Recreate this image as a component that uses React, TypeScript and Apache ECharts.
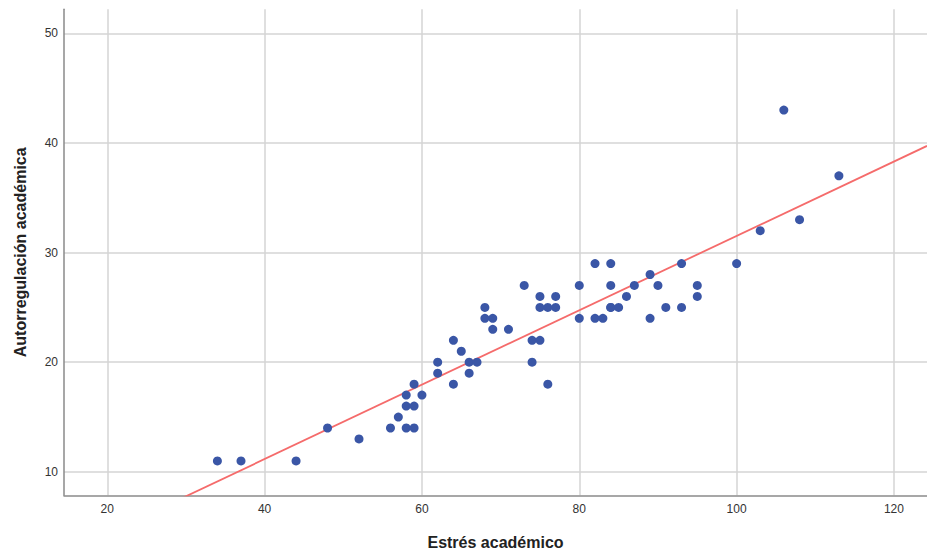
import React, { useEffect, useRef } from "react";
import * as echarts from "echarts";

const estres = [
  34, 37, 44, 48, 52, 56, 57, 58, 58, 58, 59, 59, 59, 60, 62, 62, 64, 64, 65, 66, 66, 67,
  68, 68, 69, 69, 71, 73, 74, 74, 75, 75, 75, 76, 76, 77, 77, 80, 80, 82, 82, 83, 84, 84,
  84, 84, 85, 86, 87, 89, 89, 90, 91, 93, 93, 95, 95, 100, 103, 106, 108, 113,
];
const autorregulacion = [
  11, 11, 11, 14, 13, 14, 15, 14, 16, 17, 14, 16, 18, 17, 20, 19, 22, 18, 21, 20, 19, 20,
  25, 24, 24, 23, 23, 27, 22, 20, 22, 26, 25, 25, 18, 25, 26, 27, 24, 29, 24, 24, 29, 27,
  25, 25, 25, 26, 27, 28, 24, 27, 25, 29, 25, 27, 26, 29, 32, 43, 33, 37,
];
// fit line: y = intercept + slope * x
const fitIntercept = -2.41;
const fitSlope = 0.3393;
const xRange = [14.5, 124.2];
const yRange = [7.86, 52.19];

export default function App() {
  const ref = useRef<HTMLDivElement>(null);
  useEffect(() => {
    if (!ref.current) return;
    const chart = echarts.init(ref.current, null, { renderer: "svg" });
    const points = estres.map((x, i) => [x, autorregulacion[i]]);
    const fit = xRange.map((x) => [x, fitIntercept + fitSlope * x]);
    const font = "'Liberation Sans', Arial, sans-serif";
    chart.setOption({
      animation: false,
      backgroundColor: "#ffffff",
      grid: {
        left: 64,
        right: 0,
        top: 9.3,
        bottom: 56.7,
        containLabel: false,
        outerBoundsMode: "none",
      },
      xAxis: {
        type: "value",
        min: xRange[0],
        max: xRange[1],
        splitNumber: 5,
        name: "Estrés académico",
        nameLocation: "middle",
        nameGap: 39,
        nameTextStyle: { fontFamily: font, fontSize: 16, fontWeight: "bold", color: "#222" },
        axisLine: { show: true, lineStyle: { color: "#8a8a8a", width: 1.5 } },
        axisTick: { show: false },
        axisLabel: {
          showMinLabel: false,
          showMaxLabel: false,
          margin: 8,
          fontFamily: font,
          fontSize: 12,
          color: "#333",
        },
        splitLine: {
          show: true,
          showMinLine: false,
          showMaxLine: false,
          lineStyle: { color: "#d4d4d4", width: 1.5 },
        },
      },
      yAxis: {
        type: "value",
        min: yRange[0],
        max: yRange[1],
        splitNumber: 5,
        name: "Autorregulación académica",
        nameLocation: "middle",
        nameGap: 36,
        nameTextStyle: { fontFamily: font, fontSize: 16, fontWeight: "bold", color: "#222" },
        axisLine: { show: true, lineStyle: { color: "#8a8a8a", width: 1.5 } },
        axisTick: { show: false },
        axisLabel: {
          showMinLabel: false,
          showMaxLabel: false,
          margin: 6,
          fontFamily: font,
          fontSize: 12,
          color: "#333",
        },
        splitLine: {
          show: true,
          showMinLine: false,
          showMaxLine: false,
          lineStyle: { color: "#d4d4d4", width: 1.5 },
        },
      },
      series: [
        {
          type: "line",
          data: fit,
          symbol: "none",
          clip: true,
          lineStyle: { color: "#f56b6b", width: 1.8 },
          z: 3,
        },
        {
          type: "scatter",
          data: points,
          symbolSize: 9,
          itemStyle: { color: "#3a56a6", opacity: 1 },
          z: 4,
        },
      ],
    });
    return () => chart.dispose();
  }, []);
  return (
    <div
      ref={ref}
      style={{ position: "fixed", left: 0, top: 0, width: 927, height: 552 }}
    />
  );
}
